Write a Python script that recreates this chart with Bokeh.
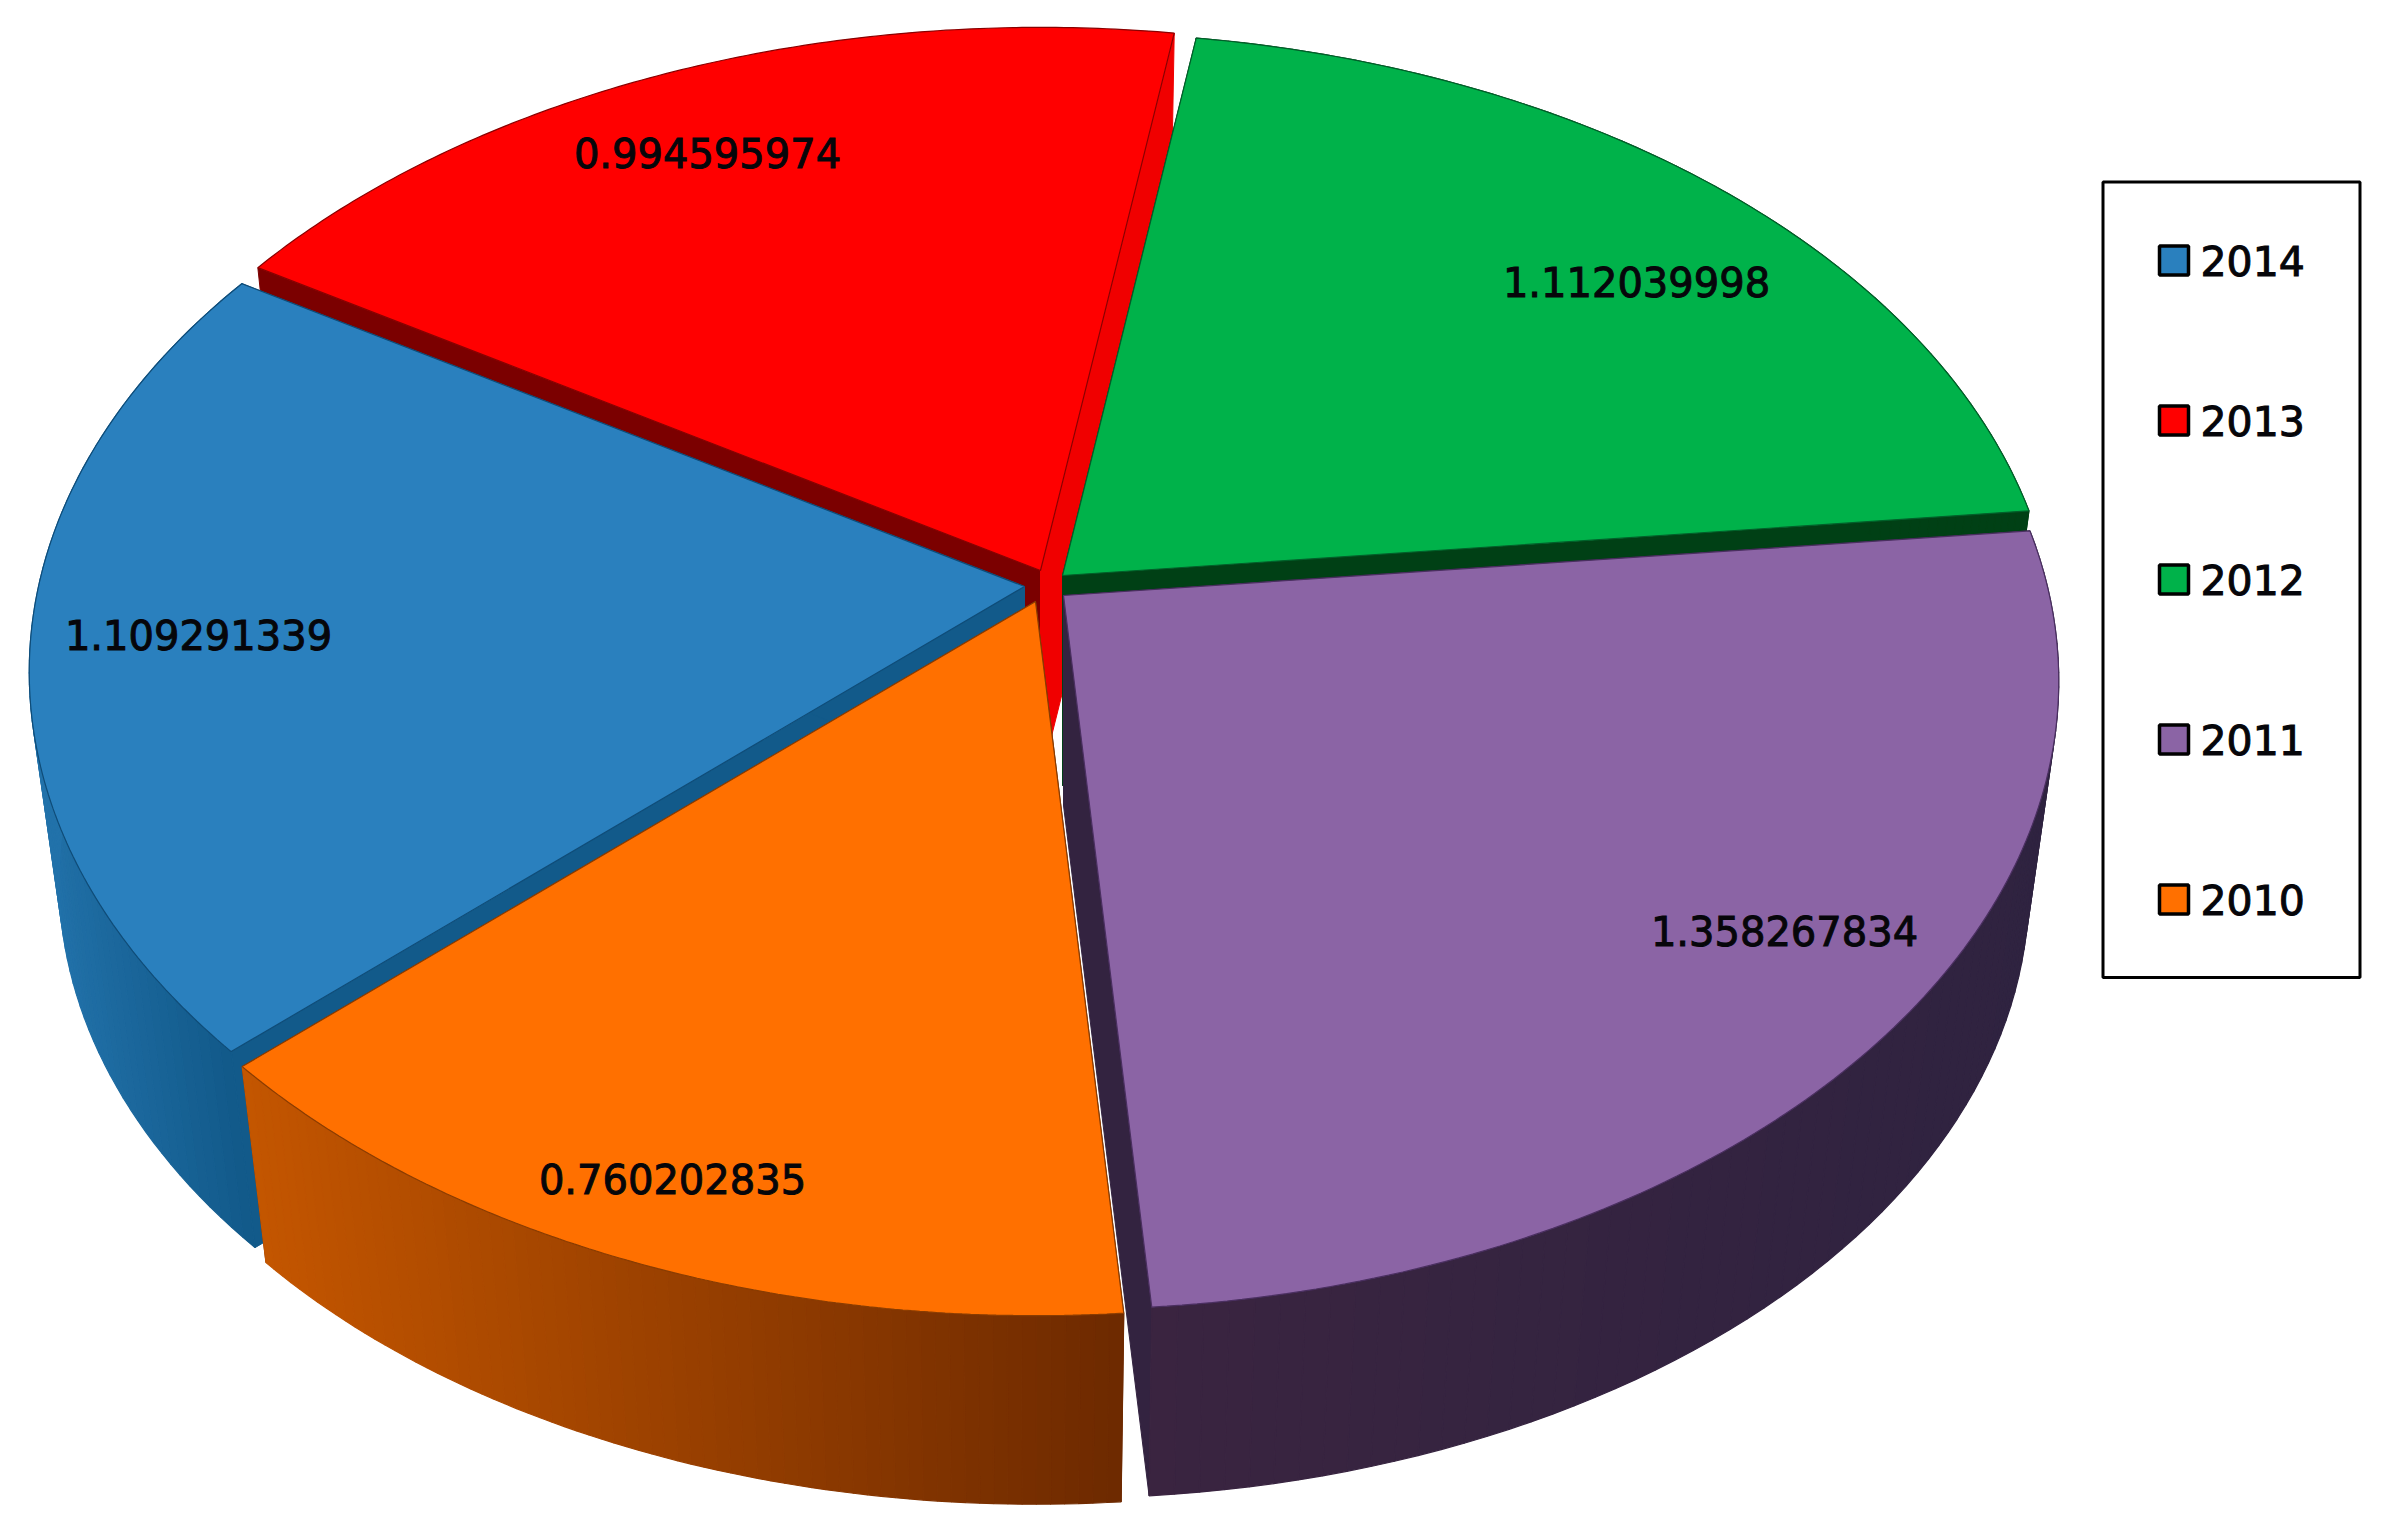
import math
from bokeh.plotting import figure
from bokeh.embed import file_html
from bokeh.resources import INLINE
from bokeh.core.properties import value

# data, clockwise from the first slice
years = ["2012", "2011", "2010", "2014", "2013"]
values = [1.112039998, 1.358267834, 0.760202835, 1.109291339, 0.994595974]
labels = ["1.112039998", "1.358267834", "0.760202835", "1.109291339", "0.994595974"]
legend_order = ["2014", "2013", "2012", "2011", "2010"]

# styles
top_colors = {"2014": "#2A80BE", "2013": "#FF0000", "2012": "#00B24A", "2011": "#8B64A5", "2010": "#FF7000"}
edge_colors = {"2014": "#0F4C78", "2013": "#8A0000", "2012": "#00602A", "2011": "#4A2F60", "2010": "#8A3C00"}
wall_start = {"2014": "#125A8A", "2013": "#7B0000", "2012": "#004015", "2011": "#332340", "2010": "#6E2A00"}
wall_end = {"2014": "#125A8A", "2013": "#F00000", "2012": "#004015", "2011": "#332340", "2010": "#6E2A00"}
side_left = {"2014": "#2272AA", "2013": "#8A0000", "2012": "#004015", "2011": "#3A2440", "2010": "#C45600"}
side_right = {"2014": "#125A8A", "2013": "#8A0000", "2012": "#004015", "2011": "#2F2340", "2010": "#6E2A00"}

# layout (pixels of the page picture)
apex = {"2012": (1062, 575), "2011": (1063, 595), "2010": (1035, 601), "2014": (1024, 586), "2013": (1040, 570)}
label_pos = {"2012": (1636, 281), "2011": (1784, 930), "2010": (672, 1178), "2014": (198, 634), "2013": (707, 152)}
legend_y = [260, 420, 579, 739, 899]
START_DEG = 8.85
K, A, B = 0.136, 617.0, 986.0   # perspective of the pie's top disc
DEPTH, SHRINK = 210.0, 0.97     # the lower disc

p = figure(width=2373, height=1517, x_range=(0, 2373), y_range=(1517, 0),
           x_axis_type=None, y_axis_type=None, toolbar_location=None,
           output_backend="svg", min_border=0, outline_line_color=None,
           background_fill_color="white", border_fill_color="white")
p.grid.visible = False


def project(year, deg, lower=False, radius=1.0):
    ax, ay = apex[year]
    t = math.radians(deg)
    X, Y = radius * math.sin(t), radius * math.cos(t)
    d = 1 + K * Y
    x, y = B * X / d, -A * Y / d
    if lower:
        return ax + SHRINK * x, ay + DEPTH + SHRINK * y
    return ax + x, ay + y


def mix(c1, c2, f):
    a = [int(c1[i:i + 2], 16) for i in (1, 3, 5)]
    b = [int(c2[i:i + 2], 16) for i in (1, 3, 5)]
    return "#%02X%02X%02X" % tuple(round(u + (v - u) * f) for u, v in zip(a, b))


total = sum(values)
spans = {}
ang = START_DEG
for y, v in zip(years, values):
    spans[y] = (ang, ang + v / total * 360.0)
    ang = spans[y][1]

# back to front
for y in ["2013", "2012", "2014", "2011", "2010"]:
    a0, a1 = spans[y]
    for deg, col in ((a0, wall_start[y]), (a1, wall_end[y])):
        pts = [project(y, deg, False, 0), project(y, deg), project(y, deg, True), project(y, deg, True, 0)]
        p.patch([q[0] for q in pts], [q[1] for q in pts], fill_color=col, line_color=col, line_width=1)
    # outer wall, in strips for the gradient
    n = 70
    degs = [a0 + (a1 - a0) * i / n for i in range(n + 1)]
    visible = [d for d in degs if math.cos(math.radians(d)) < 0.15]
    if visible:
        xv = [project(y, d)[0] for d in visible]
        xmin, xmax = min(xv), max(xv)
        sx, sy, sc = [], [], []
        for i in range(n):
            d0, d1 = degs[i], degs[i + 1]
            q = [project(y, d0), project(y, d1), project(y, d1, True), project(y, d0, True)]
            sx.append([c[0] for c in q])
            sy.append([c[1] for c in q])
            f = (q[0][0] - xmin) / max(xmax - xmin, 1)
            sc.append(mix(side_left[y], side_right[y], min(max(f, 0), 1)))
        p.patches(sx, sy, fill_color=sc, line_color=sc, line_width=1.2)
    # top face
    n = 120
    pts = [project(y, a0, False, 0)] + [project(y, a0 + (a1 - a0) * i / n) for i in range(n + 1)]
    p.patch([q[0] for q in pts], [q[1] for q in pts], fill_color=top_colors[y],
            line_color=edge_colors[y], line_width=1.2)

# value labels
p.text([label_pos[y][0] for y in years], [label_pos[y][1] for y in years], text=labels,
       text_font=value("DejaVu Sans"), text_font_size="40px", text_color="#06060A",
       text_outline_color="#06060A", text_align="center", text_baseline="middle")

# legend
p.quad(left=[2102.5], right=[2359.5], top=[181.5], bottom=[977], fill_color="white",
       line_color="black", line_width=3)
p.quad(left=[2159] * 5, right=[2188] * 5,
       top=[c - 14.5 for c in legend_y], bottom=[c + 14.5 for c in legend_y],
       fill_color=[top_colors[y] for y in legend_order], line_color="black", line_width=3.5)
p.text([2200] * 5, legend_y, text=legend_order, text_font=value("DejaVu Sans"),
       text_font_size="41px", text_color="#06060A", text_outline_color="#06060A",
       text_align="left", text_baseline="middle")

open("out.html", "w").write(file_html(p, INLINE))
